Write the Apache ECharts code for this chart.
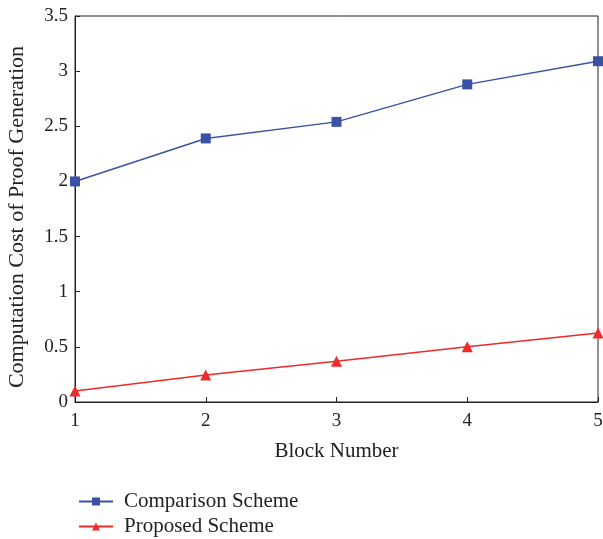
<!DOCTYPE html>
<html><head><meta charset="utf-8">
<script src="https://cdn.jsdelivr.net/npm/echarts@6/dist/echarts.min.js"></script>
<style>html,body{margin:0;padding:0;background:#fff}#c{width:603px;height:539px}</style>
</head><body><div id="c"></div>
<script>
const categories = ['1','2','3','4','5'];
const comparisonScheme = [2.00, 2.39, 2.54, 2.88, 3.09];
const proposedScheme = [0.10, 0.245, 0.37, 0.50, 0.625];
const yTicks = [0, 0.5, 1, 1.5, 2, 2.5, 3, 3.5];

const F = 'Liberation Serif';
const legendText = {fontFamily: F, fontSize: 21, color: '#222', padding: [0, 0, 0, 6]};
const chart = echarts.init(document.getElementById('c'));
chart.setOption({
  animation: false,
  backgroundColor: '#fff',
  grid: {left: 75, right: 5, top: 16, bottom: 137, outerBoundsMode: 'none', containLabel: false,
    show: true, borderColor: '#222', borderWidth: 1, backgroundColor: 'transparent'},
  legend: [
    {left: 73, top: 486, itemWidth: 34, itemHeight: 10, itemGap: 10, textStyle: legendText, data: ['Comparison Scheme']},
    {left: 73, top: 511, itemWidth: 34, itemHeight: 10, itemGap: 10, textStyle: legendText, data: ['Proposed Scheme']}
  ],
  xAxis: {
    type: 'category', data: categories, boundaryGap: false,
    name: 'Block Number', nameLocation: 'middle', nameGap: 39,
    nameTextStyle: {fontFamily: F, fontSize: 21, color: '#222'},
    axisLine: {lineStyle: {color: '#222', width: 1}},
    axisTick: {inside: true, length: 5, alignWithLabel: true, lineStyle: {color: '#222'}},
    axisLabel: {fontFamily: F, fontSize: 19, color: '#222', margin: 10},
    splitLine: {show: false}
  },
  yAxis: {
    type: 'value', min: 0, max: 3.5, interval: 0.5,
    name: 'Computation Cost of Proof Generation', nameLocation: 'middle', nameGap: 47,
    nameTextStyle: {fontFamily: F, fontSize: 22, color: '#222', padding: [0, 16, 0, 0]},
    axisLine: {show: true, lineStyle: {color: '#222', width: 1}},
    axisTick: {show: true, inside: true, length: 5, lineStyle: {color: '#222'}},
    axisLabel: {fontFamily: F, fontSize: 19, color: '#222', margin: 7,
      formatter: v => yTicks.includes(v) ? String(v) : ''},
    splitLine: {show: false}
  },
  series: [
    {name: 'Comparison Scheme', type: 'line', data: comparisonScheme, symbol: 'rect', symbolSize: 10,
      itemStyle: {color: '#3a52a5'}, lineStyle: {color: '#3a52a5', width: 1.5}},
    {name: 'Proposed Scheme', type: 'line', data: proposedScheme, symbol: 'triangle', symbolSize: 11,
      itemStyle: {color: '#ee2a2a'}, lineStyle: {color: '#ee2a2a', width: 1.5}}
  ]
});
</script></body></html>
